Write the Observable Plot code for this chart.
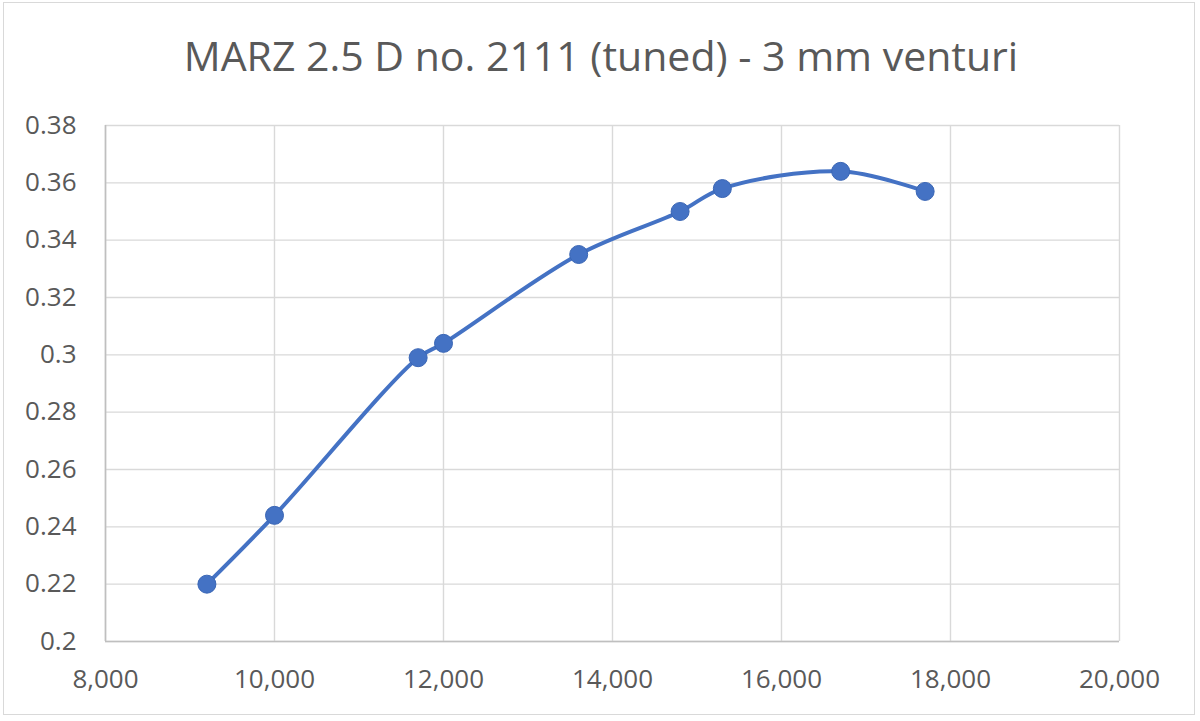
<!DOCTYPE html>
<html>
<head>
<meta charset="utf-8">
<script src="https://cdn.jsdelivr.net/npm/d3@7"></script>
<script src="https://cdn.jsdelivr.net/npm/@observablehq/plot@0.6"></script>
<style>
  html, body { margin: 0; padding: 0; background: #fff; }
  #frame {
    position: absolute; left: 3px; top: 2px; width: 1192px; height: 713px;
    border: 1px solid #d9d9d9; box-sizing: border-box; overflow: hidden;
  }
  #chart { position: absolute; left: -3px; top: -2px; width: 1200px; height: 721px; }
  #title {
    position: absolute; left: 0; top: 30px; width: 1200px; text-align: center;
    font-family: "Open Sans", sans-serif; font-size: 41px; color: #595959;
    line-height: 1.2; white-space: nowrap;
  }
  #plot { position: absolute; left: 0; top: 100px; }
</style>
</head>
<body>
<div id="frame">
  <div id="chart">
    <div id="title">MARZ 2.5 D no. 2111 (tuned) - 3 mm venturi</div>
    <div id="plot"></div>
  </div>
</div>
<script>
const rpm = [9200, 10000, 11700, 12000, 13600, 14800, 15300, 16700, 17700];
const value = [0.220, 0.244, 0.299, 0.304, 0.335, 0.350, 0.358, 0.364, 0.357];
const xTicks = [8000, 10000, 12000, 14000, 16000, 18000, 20000];
const yTicks = [0.2, 0.22, 0.24, 0.26, 0.28, 0.3, 0.32, 0.34, 0.36, 0.38];

const data = rpm.map((x, i) => ({x, y: value[i]}));
const yFmt = d => String(+d.toFixed(2));

const chart = Plot.plot({
  width: 1200,
  height: 621,
  marginLeft: 104,
  marginRight: 82,
  marginTop: 24,
  marginBottom: 81,
  style: {fontFamily: "'Open Sans', sans-serif", fontSize: "26px", color: "#595959", background: "transparent"},
  x: {domain: [8000, 20000], ticks: xTicks, tickFormat: d3.format(","), label: null},
  y: {domain: [0.2, 0.38], ticks: yTicks, tickFormat: yFmt, label: null},
  marks: [
    Plot.gridX(xTicks, {stroke: "#d9d9d9", strokeOpacity: 1, strokeWidth: 1.4}),
    Plot.gridY(yTicks, {stroke: "#d9d9d9", strokeOpacity: 1, strokeWidth: 1.4}),
    Plot.ruleY([0.2], {stroke: "#bfbfbf", strokeWidth: 1.6}),
    Plot.ruleX([8000], {stroke: "#bfbfbf", strokeWidth: 1.6}),
    Plot.axisX({ticks: xTicks, tickFormat: d3.format(","), tickSize: 0, tickPadding: 28, fill: "#595959", fontSize: 26, label: null}),
    Plot.axisY({ticks: yTicks, tickFormat: yFmt, tickSize: 0, tickPadding: 29, fill: "#595959", fontSize: 26, label: null}),
    Plot.line(data, {x: "x", y: "y", curve: "catmull-rom", stroke: "#4472C4", strokeWidth: 4}),
    Plot.dot(data, {x: "x", y: "y", r: 9, fill: "#4472C4", stroke: "#3a66b5", strokeWidth: 1})
  ]
});
document.getElementById("plot").appendChild(chart);
</script>
</body>
</html>
